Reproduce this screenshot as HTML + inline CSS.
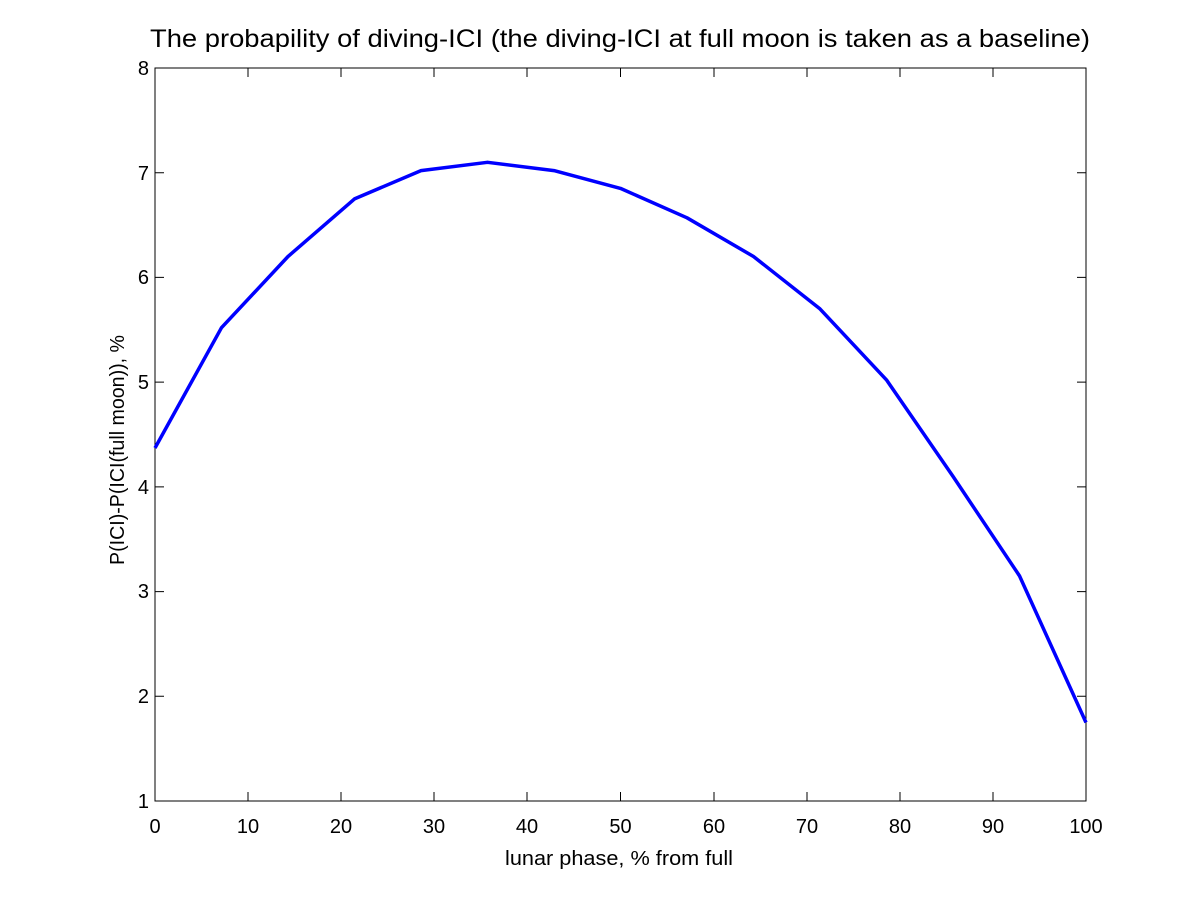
<!DOCTYPE html>
<html><head><style>html,body{margin:0;padding:0;background:#fff}</style></head>
<body>
<svg width="1200" height="900" xmlns="http://www.w3.org/2000/svg" font-family="Liberation Sans, sans-serif" font-size="20">
<rect width="1200" height="900" fill="#fff"/>
<rect x="155" y="68" width="931" height="733" fill="#fff" stroke="#000" stroke-width="1"/>
<g stroke="#000" stroke-width="1">
<path d="M155,801v-9M248,801v-9M341,801v-9M434,801v-9M527,801v-9M620.5,801v-9M714,801v-9M807,801v-9M900,801v-9M993,801v-9M1086,801v-9
M155,68v9M248,68v9M341,68v9M434,68v9M527,68v9M620.5,68v9M714,68v9M807,68v9M900,68v9M993,68v9M1086,68v9"/>
<path d="M155,801h9M155,696.3h9M155,591.6h9M155,486.9h9M155,382.1h9M155,277.4h9M155,172.7h9M155,68h9
M1086,801h-9M1086,696.3h-9M1086,591.6h-9M1086,486.9h-9M1086,382.1h-9M1086,277.4h-9M1086,172.7h-9M1086,68h-9"/>
</g>
<g text-anchor="middle">
<text x="155" y="833">0</text><text x="248" y="833">10</text><text x="341" y="833">20</text><text x="434" y="833">30</text><text x="527" y="833">40</text><text x="620.5" y="833">50</text><text x="714" y="833">60</text><text x="807" y="833">70</text><text x="900" y="833">80</text><text x="993" y="833">90</text><text x="1086" y="833">100</text>
</g>
<g text-anchor="end">
<text x="149" y="808">1</text><text x="149" y="703">2</text><text x="149" y="598">3</text><text x="149" y="494">4</text><text x="149" y="389">5</text><text x="149" y="284">6</text><text x="149" y="180">7</text><text x="149" y="75">8</text>
</g>
<text x="505" y="865" textLength="228" lengthAdjust="spacingAndGlyphs">lunar phase, % from full</text>
<text transform="translate(124,565) rotate(-90)" textLength="230" lengthAdjust="spacingAndGlyphs">P(ICI)-P(ICI(full moon)), %</text>
<text x="150" y="47" font-size="25" textLength="940" lengthAdjust="spacingAndGlyphs">The probapility of diving-ICI (the diving-ICI at full moon is taken as a baseline)</text>
<polyline fill="none" stroke="#0000ff" stroke-width="3.5" stroke-linejoin="round"
points="155,448 221.5,327.7 288,256.5 354.5,198.9 421,170.6 487.5,162.3 554,170.6 620.5,188.4 687,217.8 753.5,256.5 820,308.9 886.5,379.9 953,476.4 1019.5,575.9 1086,722.5"/>
</svg>
</body></html>
